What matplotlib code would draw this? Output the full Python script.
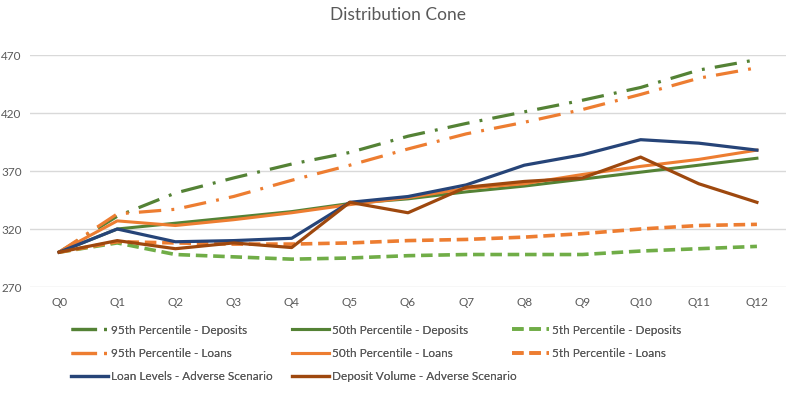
import matplotlib
matplotlib.use("Agg")
import matplotlib.pyplot as plt
from matplotlib.lines import Line2D

quarters = ["Q0", "Q1", "Q2", "Q3", "Q4", "Q5", "Q6", "Q7", "Q8", "Q9", "Q10", "Q11", "Q12"]

p95_deposits = [300, 331, 351, 364, 376, 386, 400, 411, 421, 431, 442, 457, 466]
p50_deposits = [300, 320, 325, 330, 335, 342, 346, 352, 357, 363, 369, 375, 381]
p5_deposits = [300, 308, 298, 296, 294, 295, 297, 298, 298, 298, 301, 303, 305]
p95_loans = [300, 333, 337, 348, 362, 375, 389, 402, 412, 423, 436, 450, 459]
p50_loans = [300, 327, 323, 328, 334, 341, 347, 355, 359, 367, 374, 380, 388]
p5_loans = [300, 309, 308, 307, 307, 308, 310, 311, 313, 316, 320, 323, 324]
loan_adverse = [300, 320, 309, 310, 312, 343, 348, 358, 375, 384, 397, 394, 388]
deposit_adverse = [300, 310, 303, 308, 304, 343, 334, 356, 361, 364, 382, 359, 343]

yticks = [270, 320, 370, 420, 470]

DKGREEN = "#548235"
LTGREEN = "#70AD47"
ORANGE = "#ED7D31"
BLUE = "#264478"
BROWN = "#9E480E"
GRAY = "#595959"

FONT = ["Lato", "DejaVu Sans"]

fig = plt.figure(figsize=(7.94, 3.93), dpi=100)
ax = fig.add_axes([30 / 794, 1 - 287 / 393, 756 / 794, 232 / 393])

x = list(range(len(quarters)))
dashdot = (7.0, 3.2, 0.9, 3.2)
dashed = (3.2, 1.6)

series = [
    (p95_deposits, DKGREEN, 2.3, dashdot, "95th Percentile - Deposits"),
    (p50_deposits, DKGREEN, 2.2, None, "50th Percentile - Deposits"),
    (p5_deposits, LTGREEN, 2.6, dashed, "5th Percentile - Deposits"),
    (p95_loans, ORANGE, 2.3, dashdot, "95th Percentile - Loans"),
    (p50_loans, ORANGE, 2.2, None, "50th Percentile - Loans"),
    (p5_loans, ORANGE, 2.6, dashed, "5th Percentile - Loans"),
    (loan_adverse, BLUE, 2.3, None, "Loan Levels - Adverse Scenario"),
    (deposit_adverse, BROWN, 2.3, None, "Deposit Volume - Adverse Scenario"),
]

handles = {}
for vals, col, lw, dash, lab in series:
    if dash is None:
        ax.plot(x, vals, color=col, lw=lw, solid_joinstyle="round", label=lab)
        handles[lab] = Line2D([], [], color=col, lw=lw)
    else:
        ax.plot(x, vals, color=col, lw=lw, dashes=dash, label=lab)
        hd = (8.0, 2.2, 0.9, 6.0) if dash == dashdot else dash
        handles[lab] = Line2D([], [], color=col, lw=lw, dashes=hd)

ax.set_xlim(-0.5, 12.5)
ax.set_ylim(270, 470)
ax.set_yticks(yticks)
ax.set_xticks(x)
ax.set_xticklabels(quarters)
ax.grid(axis="y", color="#D9D9D9", lw=1)
ax.set_axisbelow(True)
for s in ax.spines.values():
    s.set_visible(False)
ax.tick_params(axis="both", length=0, colors=GRAY, labelsize=8.5)
ax.tick_params(axis="x", pad=7)
ax.tick_params(axis="y", pad=6)
for t in ax.get_xticklabels() + ax.get_yticklabels():
    t.set_family(FONT)

fig.text(398 / 794, 1 - 15 / 393, "Distribution Cone", ha="center", va="center",
         fontsize=12.5, color=GRAY, family=FONT)

cols = [
    (["95th Percentile - Deposits", "95th Percentile - Loans", "Loan Levels - Adverse Scenario"], 71),
    (["50th Percentile - Deposits", "50th Percentile - Loans", "Deposit Volume - Adverse Scenario"], 292),
    (["5th Percentile - Deposits", "5th Percentile - Loans"], 512),
]
for labs, xpix in cols:
    leg = fig.legend([handles[l] for l in labs], labs, loc="upper left",
                     bbox_to_anchor=(xpix / 794, 1 - 324.5 / 393), frameon=False,
                     borderpad=0, borderaxespad=0, handlelength=3.1, handletextpad=0.3,
                     labelspacing=1.05, prop={"family": FONT, "size": 8.5})
    for t in leg.get_texts():
        t.set_color(GRAY)
    fig.add_artist(leg)

fig.savefig("out.png", dpi=100)
